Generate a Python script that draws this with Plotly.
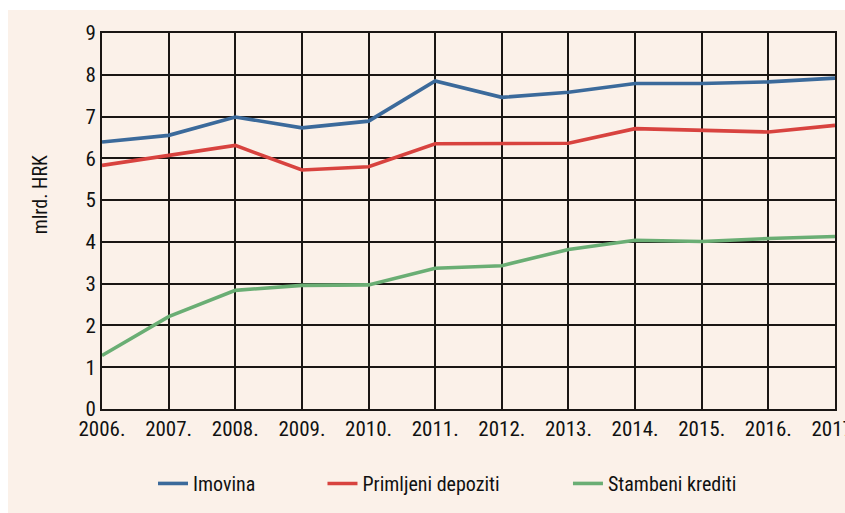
import plotly.graph_objects as go

# Annual values, mlrd. HRK
years = [2006, 2007, 2008, 2009, 2010, 2011, 2012, 2013, 2014, 2015, 2016, 2017]
year_labels = [f"{y}." for y in years]
imovina = [6.39, 6.55, 6.99, 6.73, 6.89, 7.85, 7.46, 7.58, 7.79, 7.79, 7.83, 7.92]
primljeni_depoziti = [5.83, 6.06, 6.31, 5.72, 5.80, 6.35, 6.35, 6.36, 6.71, 6.66, 6.63, 6.79]
stambeni_krediti = [1.28, 2.21, 2.84, 2.96, 2.97, 3.37, 3.43, 3.82, 4.04, 4.01, 4.08, 4.13]
y_ticks = list(range(0, 10))

series_names = ["Imovina", "Primljeni depoziti", "Stambeni krediti"]
series_values = [imovina, primljeni_depoziti, stambeni_krediti]
series_colors = ["#3B6A9B", "#D8433F", "#6AAE74"]
legend_ids = ["legend", "legend2", "legend3"]
legend_x = [0.0696, 0.3008, 0.6357]

FONT = "Liberation Sans Narrow, Roboto Condensed, DejaVu Sans Condensed, Arial Narrow, sans-serif"
PANEL = "#FBF1E9"
GRID = "#1A1614"

fig = go.Figure()
for name, vals, color, lid in zip(series_names, series_values, series_colors, legend_ids):
    fig.add_trace(go.Scatter(
        x=years, y=vals, name=name, mode="lines",
        line=dict(color=color, width=3.6),
        legend=lid, showlegend=True,
    ))

legend_common = dict(
    orientation="h", yanchor="middle", xanchor="left", y=-0.198,
    bgcolor="rgba(0,0,0,0)", font=dict(family=FONT, size=20, color="#111"),
    itemwidth=30,
)

fig.update_layout(
    width=845, height=513,
    margin=dict(l=102, r=10, t=33, b=104, pad=0),
    paper_bgcolor="white",
    plot_bgcolor=PANEL,
    showlegend=True,
    font=dict(family=FONT, size=20, color="#111"),
    legend=dict(x=legend_x[0], **legend_common),
    legend2=dict(x=legend_x[1], **legend_common),
    legend3=dict(x=legend_x[2], **legend_common),
    shapes=[dict(
        type="rect", xref="paper", yref="paper", layer="below",
        x0=-0.1282, x1=1.02, y0=-0.28, y1=1.0613,
        fillcolor=PANEL, line=dict(width=0),
    )],
    annotations=[dict(
        text="mlrd. HRK", xref="paper", yref="paper", x=-0.0846, y=0.571,
        textangle=-90, showarrow=False, xanchor="center", yanchor="middle",
        font=dict(family=FONT, size=20, color="#111"),
    )],
)

fig.update_xaxes(
    range=[2006, 2017], tickmode="array", tickvals=years, ticktext=year_labels,
    showgrid=True, gridcolor=GRID, gridwidth=1.6,
    showline=True, linecolor=GRID, linewidth=2, mirror=True,
    ticks="", ticklabelstandoff=0, ticklabeloverflow="allow", automargin=False,
    tickfont=dict(family=FONT, size=21, color="#111"), zeroline=False,
)
fig.update_yaxes(
    range=[0, 9], tickmode="array", tickvals=y_ticks,
    showgrid=True, gridcolor=GRID, gridwidth=1.6,
    showline=True, linecolor=GRID, linewidth=2, mirror=True,
    ticks="", automargin=False, zeroline=False,
    tickfont=dict(family=FONT, size=21, color="#111"),
)

fig.write_html("out.html")
